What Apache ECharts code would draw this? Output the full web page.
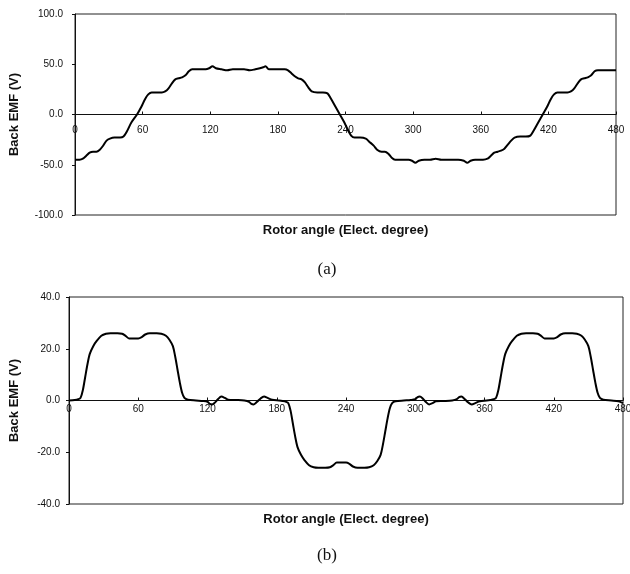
<!DOCTYPE html>
<html>
<head>
<meta charset="utf-8">
<script src="https://cdn.jsdelivr.net/npm/echarts@6/dist/echarts.min.js"></script>
<style>
html,body{margin:0;padding:0;background:#fff;}
#c{width:630px;height:574px;}
</style>
</head>
<body>
<div id="c"></div>
<script>
// (a) Back EMF vs rotor angle
var anglesA = [0,4,7,10,13,16,19,22,25,28,31,35,40,43,46,50,55,59,62,65,68,72,77,80,83,86,89,92,95,98,101,104,110,116,119,122,125,130,135,140,145,150,155,160,164,167,169,172,180,186,189,192,195,198,201,204,207,210,215,220,224,227,231,235,239,242,245,248,253,258,261,265,268,272,275,278,281,284,290,296,299,302,305,310,315,320,325,330,335,340,345,348,351,355,362,366,369,372,375,378,381,384,387,390,395,400,404,407,411,415,419,422,425,428,432,437,440,443,446,449,452,455,458,461,464,470,480];
var emfA = [-45,-45,-44,-41,-38,-37,-37,-35,-31,-26,-24,-23,-23,-22,-17,-8,0,8,15,20,22,22,22,23,26,31,35,36,37,39,43,45,45,45,46,48,46,45,44,45,45,45,44,45,46,47,48,45,45,45,44,41,38,36,35,32,27,23,22,22,21,16,8,0,-8,-15,-21,-23,-23,-24,-27,-31,-35,-37,-37,-39,-43,-45,-45,-45,-46,-48,-46,-45,-45,-44,-45,-45,-45,-45,-46,-48,-46,-45,-45,-44,-41,-38,-37,-36,-34,-30,-26,-23,-22,-22,-21,-16,-8,0,8,15,20,22,22,22,23,26,31,35,36,37,39,43,44,44,44];

// (b) Back EMF vs rotor angle
var anglesB = [0,5,8,10,12,14,16,18,21,24,28,32,36,42,46,49,52,56,60,63,66,70,76,80,84,87,90,92,94,96,98,100,103,110,116,120,122,124,126,129,132,135,138,145,152,156,158,160,163,166,169,172,176,182,185,188,190,192,194,196,198,201,204,208,212,216,222,226,229,232,236,240,243,246,250,256,260,264,267,270,272,274,276,278,280,283,290,296,300,302,304,306,309,312,315,318,325,332,336,338,340,343,346,349,352,356,362,365,368,370,372,374,376,378,381,384,388,392,396,402,406,409,412,416,420,423,426,430,436,440,444,447,450,452,454,456,458,460,463,470,476,480];
var emfB = [0,0.2,0.5,1,4,9,14,18,21,23,25,25.8,26,26,25.8,25,24,24,24,24.5,25.5,26,26,25.8,25,23.5,21,17,12,7,3,1,0.3,0,-0.2,-0.5,-1.3,-1.5,-1,0.5,1.5,1,0.3,0.2,0,-0.5,-1.3,-1.5,-0.5,0.8,1.5,1,0.3,0,-0.2,-0.5,-1,-4,-9,-14,-18,-21,-23,-25,-25.8,-26,-26,-25.8,-25,-24,-24,-24,-24.5,-25.5,-26,-26,-25.8,-25,-23.5,-21,-17,-12,-7,-3,-1,-0.3,0,0.2,0.5,1.3,1.5,1,-0.5,-1.5,-1,-0.3,-0.2,0,0.5,1.3,1.5,0.5,-0.8,-1.5,-1,-0.3,0,0.2,0.5,1,4,9,14,18,21,23,25,25.8,26,26,25.8,25,24,24,24,24.5,25.5,26,26,25.8,25,23.5,21,17,12,7,3,1,0.3,0,-0.3,-1];

var xTicks = [0,60,120,180,240,300,360,420,480];
var yTicksA = [-100,-50,0,50,100];
var yTicksB = [-40,-20,0,20,40];
var xTitle = 'Rotor angle (Elect. degree)';
var yTitle = 'Back EMF (V)';
var panelLabels = ['(a)','(b)'];

function pairs(xs, ys){ var o=[]; for(var i=0;i<xs.length;i++) o.push([xs[i], ys[i]]); return o; }

var chart = echarts.init(document.getElementById('c'), null, {renderer:'canvas'});
var font = 'Arial, "Liberation Sans", Helvetica, sans-serif';
// grid geometry
var gA = {left:75, right:14, top:14, height:201};
var gB = {left:69, right:7, top:297, height:207};
function xAxis(idx, g, ticks, gap, margin){
  // place the axis on the zero line: offset from the grid bottom
  var zeroFromBottom = g.height * (0 - ticks[0]) / (ticks[ticks.length-1] - ticks[0]);
  return {
    type:'value', gridIndex: idx, min: xTicks[0], max: xTicks[xTicks.length-1], interval: 60,
    position:'bottom', offset: -zeroFromBottom,
    axisLine:{show:true, onZero:false, lineStyle:{color:'#111', width:1}},
    axisTick:{show:true, inside:true, length:3, lineStyle:{color:'#111'}},
    splitLine:{show:false},
    axisLabel:{color:'#111', fontFamily:font, fontSize:10, margin:margin},
    name: xTitle, nameLocation:'middle', nameGap: gap,
    nameTextStyle:{color:'#111', fontFamily:font, fontWeight:'bold', fontSize:13, verticalAlign:'top'}
  };
}
function yAxis(idx, ticks, gap, margin){
  return {
    type:'value', gridIndex: idx, min: ticks[0], max: ticks[ticks.length-1], interval: ticks[1]-ticks[0],
    axisLine:{show:true, lineStyle:{color:'#111', width:1}},
    axisTick:{show:true, length:3, lineStyle:{color:'#111'}},
    splitLine:{show:false},
    axisLabel:{color:'#111', fontFamily:font, fontSize:10, margin:margin, formatter:function(v){return v.toFixed(1);}},
    name: yTitle, nameLocation:'middle', nameGap: gap,
    nameTextStyle:{color:'#111', fontFamily:font, fontWeight:'bold', fontSize:13}
  };
}
function grid(g){
  return {left:g.left, right:g.right, top:g.top, height:g.height, show:true, borderColor:'#222', borderWidth:1,
    backgroundColor:'transparent', containLabel:false, outerBoundsMode:'none'};
}
chart.setOption({
  animation:false,
  backgroundColor:'#fff',
  title:[
    {text:panelLabels[0], left:322, top:256, textAlign:'center', textStyle:{fontFamily:'"Liberation Serif","Times New Roman",serif', fontWeight:'normal', fontSize:17, color:'#111'}},
    {text:panelLabels[1], left:322, top:542, textAlign:'center', textStyle:{fontFamily:'"Liberation Serif","Times New Roman",serif', fontWeight:'normal', fontSize:17, color:'#111'}}
  ],
  grid:[grid(gA), grid(gB)],
  xAxis:[xAxis(0, gA, yTicksA, 109, 11), xAxis(1, gB, yTicksB, 112, 4)],
  yAxis:[yAxis(0, yTicksA, 54, 12), yAxis(1, yTicksB, 48, 9)],
  series:[
    {type:'line', xAxisIndex:0, yAxisIndex:0, data:pairs(anglesA, emfA), showSymbol:false, smooth:0.3, lineStyle:{color:'#000', width:2}},
    {type:'line', xAxisIndex:1, yAxisIndex:1, data:pairs(anglesB, emfB), showSymbol:false, smooth:0.3, lineStyle:{color:'#000', width:2}}
  ]
});
</script>
</body>
</html>
